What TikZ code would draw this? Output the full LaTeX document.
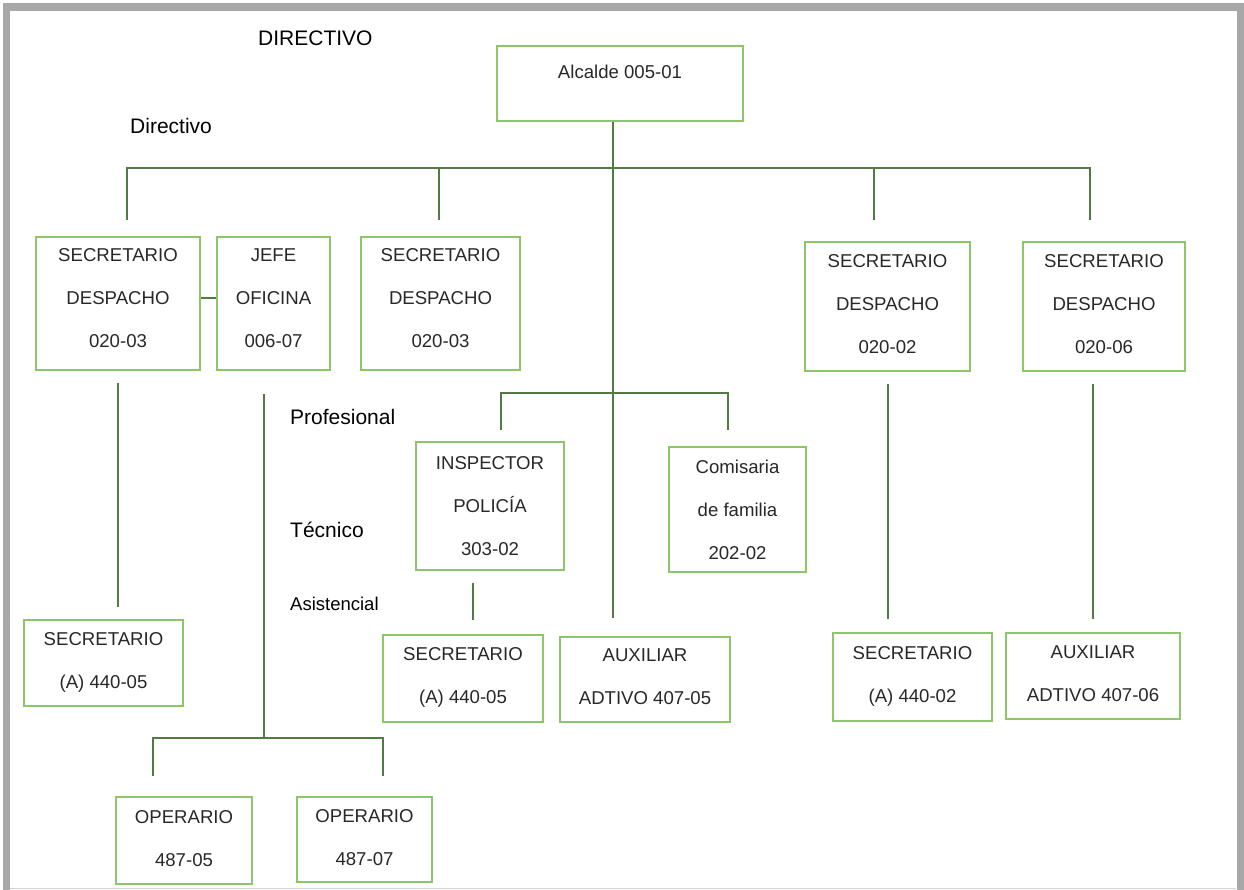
\documentclass[tikz,border=0pt]{standalone}
\usepackage{fontspec}
\setmainfont{Liberation Sans}
\usepackage{tikz}
\usetikzlibrary{calc}

\definecolor{boxgreen}{RGB}{140,198,104}
\definecolor{linegreen}{RGB}{84,122,68}
\definecolor{framegray}{RGB}{168,168,168}
\definecolor{textgray}{RGB}{40,40,40}

\begin{document}
\begin{tikzpicture}[x=1pt, y=-1pt,
        node_style/.style={draw=boxgreen, line width=2pt, fill=white, inner sep=0pt, align=center, text=textgray, text depth=5pt, font=\fontsize{18.6}{43}\selectfont},
        level_style/.style={anchor=west, inner sep=0pt, font=\fontsize{21}{25}\selectfont},
        edge_style/.style={draw=linegreen, line width=2pt},
        frame_style/.style={draw=framegray, line width=7.5pt}]

        \useasboundingbox (0,0) rectangle (1244,890);
        \draw [frame_style] (6.5,895) |- (1240.5,7) -- (1240.5,895);
        \draw [draw=framegray!50, line width=1pt] (10,888.5) -- (1236,888.5);

        \node [level_style](t1) at (258,38) {DIRECTIVO};

        \node [level_style](t2) at (130,126) {Directivo};

        \node [level_style](t3) at (290,417) {Profesional};

        \node [level_style](t4) at (290,530) {Técnico};

        \node [level_style, font=\fontsize{18.5}{22}\selectfont](t5) at (290,604) {Asistencial};

        \node [node_style, minimum width=246, minimum height=75, text depth=23pt](n1) at (620,83.5) {Alcalde 005-01};

        \node [node_style, minimum width=164, minimum height=133, text depth=11pt](n2) at (118,303.5) {SECRETARIO\\DESPACHO\\020-03};

        \node [node_style, minimum width=113, minimum height=133, text depth=11pt](n3) at (273.5,303.5) {JEFE\\OFICINA\\006-07};

        \node [node_style, minimum width=159, minimum height=133, text depth=11pt](n4) at (440.5,303.5) {SECRETARIO\\DESPACHO\\020-03};

        \node [node_style, minimum width=165, minimum height=129](n5) at (887.5,306.5) {SECRETARIO\\DESPACHO\\020-02};

        \node [node_style, minimum width=162, minimum height=129](n6) at (1104,306.5) {SECRETARIO\\DESPACHO\\020-06};

        \node [node_style, minimum width=159, minimum height=86](n7) at (103.5,663) {SECRETARIO\\(A) 440-05};

        \node [node_style, minimum width=148, minimum height=128, text depth=0pt](n8) at (490,506) {INSPECTOR\\POLICÍA\\303-02};

        \node [node_style, minimum width=137, minimum height=125, text depth=0pt](n9) at (737.5,509.5) {Comisaria\\de familia\\202-02};

        \node [node_style, minimum width=160, minimum height=87](n10) at (463,678.5) {SECRETARIO\\(A) 440-05};

        \node [node_style, minimum width=170, minimum height=85](n11) at (645,679.5) {AUXILIAR\\ADTIVO 407-05};

        \node [node_style, minimum width=159, minimum height=88](n12) at (912.5,677) {SECRETARIO\\(A) 440-02};

        \node [node_style, minimum width=174, minimum height=86](n13) at (1093,676) {AUXILIAR\\ADTIVO 407-06};

        \node [node_style, minimum width=136, minimum height=87](n14) at (184,840.5) {OPERARIO\\487-05};

        \node [node_style, minimum width=135, minimum height=85](n15) at (364.5,839.5) {OPERARIO\\487-07};

        \coordinate (c1) at (613,168);
        \coordinate (c2) at (613,393);
        \coordinate (c3) at (264,738);
        \coordinate (c4) at (473,620);

        \draw [edge_style, shorten >=18pt] (n1.south -| c1) -- (n11.north -| c1);

        \draw [edge_style] ([xshift=9pt,yshift=16pt]n2.north) |- (c1) -| ([xshift=-14pt,yshift=21pt]n6.north);

        \draw [edge_style] ([xshift=-1.5pt,yshift=16pt]n4.north) |- (c1);

        \draw [edge_style] ([xshift=-13.5pt,yshift=21pt]n5.north) |- (c1);

        \draw [edge_style] ([yshift=5.5pt]n2.east) -- ([yshift=5.5pt]n3.west);

        \draw [edge_style, shorten <=12pt, shorten >=12pt] (n2.south) -- (n2.south |- n7.north);

        \draw [edge_style, shorten <=23pt] (n3.south -| c3) -- (c3);

        \draw [edge_style] ([xshift=-31pt,yshift=20pt]n14.north) |- (c3) -| ([xshift=18.5pt,yshift=20pt]n15.north);

        \draw [edge_style] ([xshift=11pt,yshift=11pt]n8.north) |- (c2) -| ([xshift=-9.5pt,yshift=16pt]n9.north);

        \draw [edge_style, shorten <=12pt] (n8.south -| c4) -- (c4);

        \draw [edge_style, shorten <=12pt, shorten >=13pt] (n5.south) -- (n5.south |- n12.north);

        \draw [edge_style, shorten <=12pt, shorten >=13pt] (n6.south -| n13.north) -- (n13.north);

        \end{tikzpicture}
\end{document}
